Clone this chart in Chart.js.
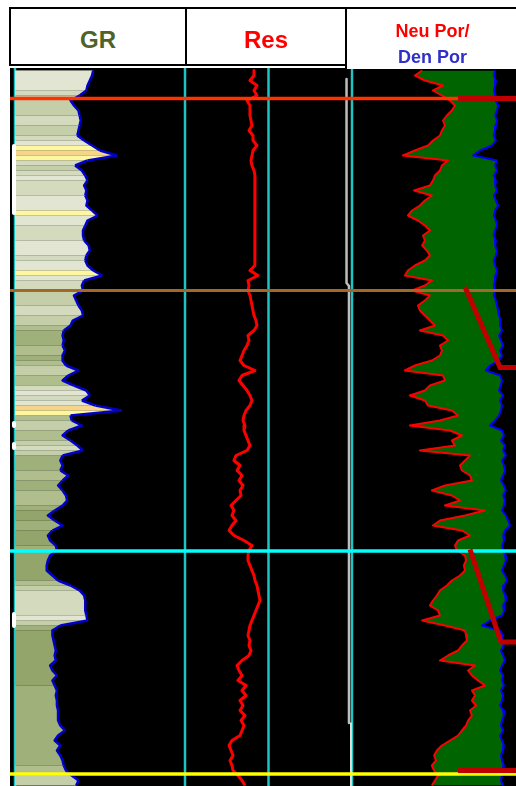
<!DOCTYPE html>
<html>
<head>
<meta charset="utf-8">
<script src="https://cdn.jsdelivr.net/npm/chart.js@4.4.1/dist/chart.umd.min.js"></script>
<style>
  html, body { margin: 0; padding: 0; background: #fff; }
  #page { position: relative; width: 516px; height: 786px; overflow: hidden; background: #fff; }
  #log { position: absolute; left: 10px; top: 68px; display: block; background: #000; }
  .hd { position: absolute; box-sizing: border-box; border: 2px solid #000; background: #fff;
        text-align: center; font-family: "Liberation Sans", Arial, sans-serif; font-weight: bold; white-space: nowrap; }
  #hGR  { left: 9px;   top: 7px; width: 178px; height: 59px; padding-top: 16px; font-size: 24px; line-height: 30px; color: #4F6228; }
  #hRes { left: 185px; top: 7px; width: 162px; height: 59px; padding-top: 16px; font-size: 24px; line-height: 30px; color: #FF0000; }
  #hPor { left: 345px; top: 7px; width: 175px; height: 62px; border-bottom: none; padding-top: 9px; font-size: 18px; line-height: 26px; }
  #hPor .neu { color: #FF0000; }
  #hPor .den { color: #3030C8; }
</style>
</head>
<body>
<div id="page">
  <canvas id="log" width="506" height="718"></canvas>
  <div class="hd" id="hGR">GR</div>
  <div class="hd" id="hRes">Res</div>
  <div class="hd" id="hPor"><span class="neu">Neu Por/</span><br><span class="den">Den Por</span></div>
</div>
<script>
// ---------------- log data (one sample per foot) ----------------
const DEPTH_TOP = 5000.0;
const DEPTH_BASE = 5143.6;
const SAMPLE_STEP = 1.0;

// Gamma ray, API
const grValues = [
  69, 68, 66, 64, 63, 57, 49, 52, 56, 57,
  58, 57, 56, 55, 61, 68, 75, 90, 64, 53,
  59, 62, 64, 61, 63, 62, 64, 63, 68, 73,
  64, 62, 60, 60, 61, 65, 66, 63, 62, 64,
  69, 77, 61, 59, 60, 52, 54, 56, 59, 60,
  51, 49, 43, 42, 43, 42, 44, 42, 42, 45,
  56, 47, 42, 52, 63, 66, 59, 71, 94, 49,
  50, 59, 47, 42, 49, 55, 60, 42, 40, 42,
  40, 47, 42, 38, 42, 45, 46, 42, 35, 29,
  35, 42, 33, 29, 31, 36, 37, 31, 29, 28,
  28, 33, 38, 49, 57, 61, 62, 62, 62, 63,
  64, 40, 33, 33, 34, 35, 36, 35, 36, 31,
  33, 37, 33, 35, 37, 36, 37, 37, 38, 38,
  38, 40, 44, 38, 35, 40, 37, 40, 42, 43,
  45, 50, 56, 54
];

// Deep resistivity, ohm.m
const resValues = [
  6.70, 6.70, 6.00, 7.28, 6.70, 7.28, 5.53, 6.00, 6.00, 6.00,
  6.17, 6.34, 5.84, 6.52, 6.52, 7.28, 6.52, 6.34, 6.17, 6.34,
  6.70, 6.89, 6.89, 6.80, 6.89, 6.89, 6.80, 6.89, 6.89, 6.89,
  6.80, 6.89, 6.89, 6.89, 6.80, 6.89, 6.89, 6.89, 6.80, 6.89,
  6.00, 7.48, 5.68, 5.84, 5.68, 6.00, 6.17, 6.34, 6.52, 6.70,
  7.08, 7.28, 6.70, 5.68, 5.84, 5.53, 5.09, 4.82, 4.56, 5.09,
  6.89, 4.82, 4.43, 4.95, 5.53, 6.00, 6.34, 6.00, 5.38, 5.09,
  4.95, 5.23, 5.09, 5.38, 5.68, 6.00, 5.53, 4.08, 3.86, 4.56,
  4.20, 4.82, 4.43, 4.95, 4.56, 4.69, 4.08, 3.56, 3.86, 3.65,
  4.08, 3.65, 3.37, 3.86, 5.09, 6.34, 5.84, 5.68, 5.68, 6.00,
  6.34, 6.70, 6.89, 7.28, 7.48, 7.69, 7.91, 7.48, 7.08, 6.70,
  6.34, 6.00, 5.84, 5.68, 6.00, 5.84, 6.17, 5.84, 4.82, 4.20,
  4.43, 4.82, 4.31, 5.38, 4.82, 5.38, 4.56, 4.95, 4.56, 5.23,
  4.69, 5.09, 4.82, 4.56, 3.65, 3.37, 3.56, 3.76, 3.46, 3.65,
  3.76, 4.31, 4.82, 5.23
];

// Neutron porosity, v/v
const neuValues = [
  0.348, 0.374, 0.338, 0.273, 0.309, 0.277, 0.248, 0.230, 0.241, 0.259,
  0.273, 0.266, 0.277, 0.284, 0.309, 0.327, 0.374, 0.417, 0.255, 0.277,
  0.284, 0.302, 0.309, 0.320, 0.377, 0.313, 0.338, 0.356, 0.384, 0.399,
  0.363, 0.338, 0.320, 0.345, 0.338, 0.348, 0.331, 0.320, 0.338, 0.374,
  0.399, 0.410, 0.313, 0.338, 0.384, 0.320, 0.338, 0.363, 0.356, 0.338,
  0.320, 0.302, 0.356, 0.273, 0.255, 0.284, 0.277, 0.284, 0.313, 0.374,
  0.410, 0.273, 0.266, 0.320, 0.338, 0.392, 0.338, 0.327, 0.241, 0.219,
  0.284, 0.392, 0.248, 0.205, 0.241, 0.230, 0.356, 0.176, 0.194, 0.212,
  0.205, 0.176, 0.169, 0.266, 0.313, 0.241, 0.212, 0.266, 0.122, 0.194,
  0.284, 0.309, 0.205, 0.176, 0.219, 0.230, 0.223, 0.194, 0.190, 0.198,
  0.194, 0.212, 0.241, 0.259, 0.284, 0.295, 0.309, 0.320, 0.291, 0.284,
  0.348, 0.266, 0.194, 0.190, 0.187, 0.205, 0.219, 0.255, 0.284, 0.158,
  0.183, 0.169, 0.147, 0.122, 0.169, 0.158, 0.169, 0.154, 0.176, 0.169,
  0.183, 0.190, 0.205, 0.219, 0.248, 0.277, 0.295, 0.305, 0.298, 0.313,
  0.305, 0.291, 0.302, 0.313
];

// Density porosity, v/v
const denValues = [
  0.086, 0.090, 0.083, 0.086, 0.090, 0.086, 0.083, 0.075, 0.079, 0.086,
  0.079, 0.083, 0.086, 0.090, 0.083, 0.097, 0.140, 0.165, 0.079, 0.086,
  0.079, 0.090, 0.083, 0.086, 0.079, 0.090, 0.083, 0.075, 0.086, 0.090,
  0.083, 0.079, 0.086, 0.090, 0.083, 0.086, 0.079, 0.083, 0.090, 0.086,
  0.079, 0.083, 0.086, 0.090, 0.086, 0.090, 0.083, 0.079, 0.075, 0.072,
  0.065, 0.068, 0.061, 0.072, 0.065, 0.057, 0.068, 0.061, 0.072, 0.104,
  0.119, 0.068, 0.061, 0.065, 0.072, 0.057, 0.068, 0.061, 0.065, 0.072,
  0.086, 0.104, 0.061, 0.054, 0.065, 0.050, 0.057, 0.047, 0.061, 0.054,
  0.050, 0.057, 0.065, 0.054, 0.047, 0.057, 0.050, 0.054, 0.061, 0.047,
  0.039, 0.032, 0.050, 0.057, 0.054, 0.061, 0.057, 0.050, 0.047, 0.054,
  0.061, 0.050, 0.043, 0.054, 0.057, 0.050, 0.047, 0.057, 0.054, 0.061,
  0.104, 0.133, 0.068, 0.057, 0.061, 0.054, 0.065, 0.057, 0.050, 0.061,
  0.068, 0.057, 0.061, 0.054, 0.065, 0.057, 0.061, 0.068, 0.057, 0.054,
  0.061, 0.065, 0.057, 0.068, 0.061, 0.054, 0.057, 0.065, 0.061, 0.054,
  0.057, 0.061, 0.065, 0.057
];

// Formation tops (ft)
const topDepths = [5006.1, 5044.5, 5096.6, 5141.2];

// White flags beside the depth column: [from, to] in ft
const flagIntervals = [[5015.6, 5029.0], [5071.0, 5071.6], [5075.2, 5076.0], [5109.2, 5111.6]];

// Correlation picks in the porosity track: [porosity, depth] vertices
const pickLines = [
  [[0.219, 5006.1], [0.000, 5006.1]],
  [[0.194, 5043.8], [0.068, 5059.9], [0.000, 5059.9]],
  [[0.176, 5096.3], [0.065, 5114.8], [0.000, 5114.8]],
  [[0.219, 5140.5], [0.000, 5140.5]]
];

// Auxiliary curve at the right edge of the resistivity track (ohm.m scale)
const auxDepths = [5002.2, 5043.0, 5043.6, 5131.0];
const auxValues = [86, 86, 92, 92];
const auxTailDepths = [5131.0, 5143.6];
const auxTailValues = [97, 97];

// ---------------- styling ----------------
const TOP_STYLE = [
  { color: '#FF3300', width: 3.5 },
  { color: '#A3672B', width: 3 },
  { color: '#00FFFF', width: 3.5 },
  { color: '#FFFF00', width: 3.5 }
];
const GRID_COLOR = '#1EC4C4';
const PICK_COLOR = '#C00000';

function grShade(v) {
  if (v >= 80) return '#F4D58A';
  if (v >= 70) return '#FFF7A0';
  if (v >= 63) return '#E2E5D2';
  if (v >= 57) return '#D3DABD';
  if (v >= 50) return '#C4CEA8';
  if (v >= 43) return '#B0BE8E';
  if (v >= 36) return '#A0B07A';
  return '#93A56A';
}

// ---------------- track layout ----------------
const W = 506; // canvas width
// Each track: canvas pixel span and the scale values at its edges
const TRACKS = {
  gr:  { from: 5,   to: 175, left: 0,    right: 150,  log: false },
  res: { from: 175, to: 342, left: 1,    right: 100,  log: true  },
  por: { from: 342, to: 509, left: 0.60, right: 0.00, log: false }
};
// A hidden x scale spanning the whole canvas, ranged so that the track
// edges fall on the requested pixels.
function trackScale(t) {
  const f = t.log ? Math.log10 : (v => v);
  const g = t.log ? (v => Math.pow(10, v)) : (v => v);
  const a = f(t.left), b = f(t.right);
  const k = (b - a) / (t.to - t.from);
  const v0 = a - t.from * k;
  const vW = a + (W - t.from) * k;
  return {
    type: t.log ? 'logarithmic' : 'linear',
    axis: 'x',
    min: g(Math.min(v0, vW)),
    max: g(Math.max(v0, vW)),
    reverse: k < 0,
    bounds: 'data',
    display: false
  };
}

const depths = grValues.map((_, i) => DEPTH_TOP + SAMPLE_STEP * (i + 0.5));
const pts = vals => vals.map((v, i) => ({ x: v, y: depths[i] }));

const datasets = [];

// Gamma ray with value-shaded fill
const grShadeSegment = {
  backgroundColor: c => grShade((grValues[c.p0DataIndex] + grValues[c.p1DataIndex]) / 2)
};
datasets.push({
  label: 'GR', xAxisID: 'xGR', data: pts(grValues),
  borderColor: '#0000C8', borderWidth: 2.5,
  fill: 'origin', backgroundColor: '#C4CEA8',
  segment: grShadeSegment,
  order: 8
});
// Same shading laid underneath so band edges blend without dark seams
for (let k = 0; k < 2; k++) {
  datasets.push({
    label: 'GR shade', xAxisID: 'xGR', data: pts(grValues),
    borderWidth: 0, borderColor: 'rgba(0,0,0,0)',
    fill: 'origin', backgroundColor: '#C4CEA8',
    segment: grShadeSegment,
    order: 8.5 + k
  });
}

// Resistivity
datasets.push({
  label: 'Res', xAxisID: 'xRes', data: pts(resValues),
  borderColor: '#FF0000', borderWidth: 3, order: 7
});

// Neutron porosity, filled to the density porosity curve
const neuIndex = datasets.length;
datasets.push({
  label: 'Neu Por', xAxisID: 'xPor', data: pts(neuValues),
  borderColor: '#FF0000', borderWidth: 2,
  fill: neuIndex + 1, backgroundColor: '#006400', order: 6
});
datasets.push({
  label: 'Den Por', xAxisID: 'xPor', data: pts(denValues),
  borderColor: '#0000FF', borderWidth: 2, order: 5
});

// Auxiliary curve
datasets.push({
  label: 'Aux', xAxisID: 'xRes',
  data: auxValues.map((v, i) => ({ x: v, y: auxDepths[i] })),
  borderColor: '#BDBDBD', borderWidth: 2.5, order: 4
});
datasets.push({
  label: 'Aux tail', xAxisID: 'xRes',
  data: auxTailValues.map((v, i) => ({ x: v, y: auxTailDepths[i] })),
  borderColor: '#FFFFFF', borderWidth: 1.5, order: 4
});

// Track grid lines
const gridLines = [['xGR', 0], ['xGR', 150], ['xRes', 10], ['xRes', 100]];
gridLines.forEach(([axis, v]) => datasets.push({
  label: 'grid', xAxisID: axis,
  data: [{ x: v, y: DEPTH_TOP }, { x: v, y: DEPTH_BASE }],
  borderColor: GRID_COLOR, borderWidth: 2.5, order: 9
}));

// Flags
flagIntervals.forEach(([a, b]) => datasets.push({
  label: 'flag', xAxisID: 'xGR',
  data: [{ x: -0.9, y: a }, { x: -0.9, y: b }],
  borderColor: '#FFFFFF', borderWidth: 4, borderCapStyle: 'butt', order: 3
}));

// Formation tops across all tracks
topDepths.forEach((d, i) => datasets.push({
  label: 'top', xAxisID: 'xFull',
  data: [{ x: 0, y: d }, { x: 1, y: d }],
  borderColor: TOP_STYLE[i].color, borderWidth: TOP_STYLE[i].width, order: 2
}));

// Correlation picks
pickLines.forEach(line => datasets.push({
  label: 'pick', xAxisID: 'xPor',
  data: line.map(([p, d]) => ({ x: p, y: d })),
  borderColor: PICK_COLOR, borderWidth: 5, borderJoinStyle: 'miter', order: 1
}));

new Chart(document.getElementById('log'), {
  type: 'line',
  data: { datasets },
  options: {
    indexAxis: 'y',
    responsive: false,
    animation: false,
    devicePixelRatio: 1,
    events: [],
    layout: { padding: 0 },
    elements: {
      point: { radius: 0, hoverRadius: 0 },
      line: { tension: 0, borderJoinStyle: 'round' }
    },
    plugins: { legend: { display: false }, tooltip: { enabled: false } },
    scales: {
      y: { type: 'linear', reverse: true, min: DEPTH_TOP, max: DEPTH_BASE, bounds: 'data', display: false },
      xGR: trackScale(TRACKS.gr),
      xRes: trackScale(TRACKS.res),
      xPor: trackScale(TRACKS.por),
      xFull: { type: 'linear', axis: 'x', min: 0, max: 1, bounds: 'data', display: false }
    }
  }
});
</script>
</body>
</html>
